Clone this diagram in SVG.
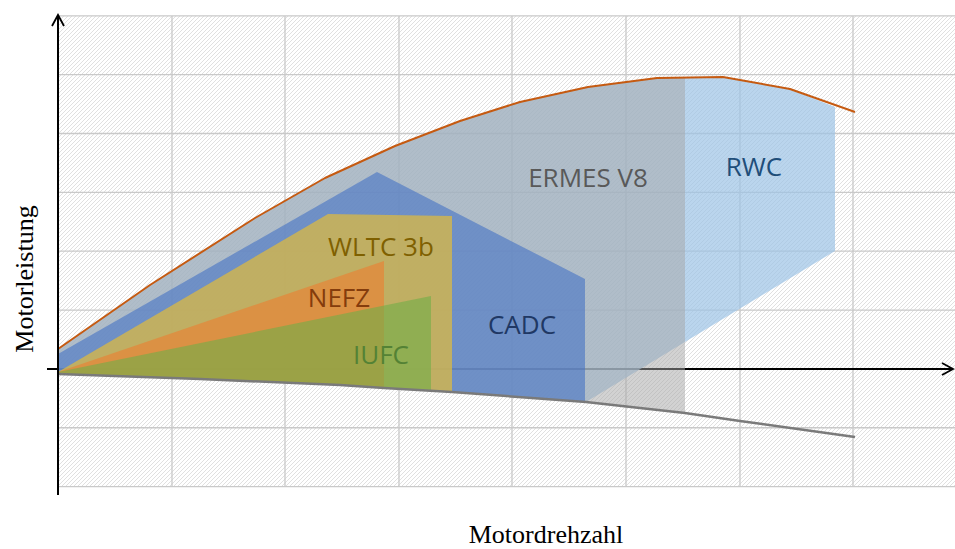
<svg xmlns="http://www.w3.org/2000/svg" width="955" height="549" viewBox="0 0 955 549">
<defs>
<pattern id="hatch" patternUnits="userSpaceOnUse" width="4" height="4">
<path d="M-1,1 L1,-1 M0,4 L4,0 M3,5 L5,3" stroke="#dadada" stroke-width="0.85"/>
</pattern>
<marker id="arr" viewBox="0 0 14 14" refX="12" refY="7" markerWidth="14" markerHeight="14" markerUnits="userSpaceOnUse" orient="auto">
<path d="M1,1 L12,7 L1,13" fill="none" stroke="#000" stroke-width="1.8"/>
</marker>
<style>
.grid{stroke:#c9c9c9;stroke-width:1.3;fill:none}
.axis{stroke:#000;stroke-width:2;fill:none}
.lbl{font-family:"Open Sans","Liberation Sans",sans-serif;font-size:26px;text-anchor:middle}
.ax{font-family:"Liberation Serif","DejaVu Serif",serif;font-size:26px;fill:#000;text-anchor:middle}
</style>
</defs>
<rect width="955" height="549" fill="#fff"/>
<g id="background">
<rect x="58" y="15.8" width="897" height="470.8" fill="url(#hatch)"/>
<path class="grid" d="M58,15.8H955 M58,74.65H955 M58,133.5H955 M58,192.35H955 M58,251.2H955 M58,310.05H955 M58,427.75H955 M58,486.6H955 M172,15.8V486.6 M285,15.8V486.6 M399,15.8V486.6 M512,15.8V486.6 M626,15.8V486.6 M740,15.8V486.6 M853,15.8V486.6"/>
<line class="axis" x1="47" y1="369" x2="953" y2="369" marker-end="url(#arr)"/>
</g>
<g id="rwc">
<polygon fill="#9dc3e6" fill-opacity="0.7" points="58,349 150,285 255,218 325,178 395,146 460,121 520,102 588,87 657,78 723,77 790,89 835,107 835,251 586,402 452,392 384,388 340,385 200,379 58,374"/>
<text class="lbl" x="754" y="176" fill="#1f4e79">RWC</text>
</g>
<g id="ermes-v8">
<polygon fill="#a6a6a6" fill-opacity="0.5" points="58,349 150,285 255,218 325,178 395,146 460,121 520,102 588,87 657,78 685,77.7 685,413 586,402 452,392 384,388 340,385 200,379 58,374"/>
</g>
<g id="cadc">
<polygon fill="#4472c4" fill-opacity="0.6" points="58,354 377,172 585,279 585,402 452,392 384,388 340,385 200,379 58,374"/>
<text class="lbl" x="522" y="334" fill="#203864">CADC</text>
</g>
<g id="wltc-3b">
<polygon fill="#d4b64a" fill-opacity="0.8" points="58,372 328,214 452,216 452,392 384,388 340,385 200,379 58,374"/>
</g>
<g id="nefz">
<polygon fill="#ed7d31" fill-opacity="0.6" points="58,372 384,261 384,388 340,385 200,379 58,374"/>
</g>
<g id="iufc">
<polygon fill="#70ad47" fill-opacity="0.6" points="58,372 431,296 431,390 384,388 340,385 200,379 58,374"/>
</g>
<g id="connectors">
<polyline fill="none" stroke="#c55a11" stroke-width="2" stroke-linejoin="round" points="58,349 150,285 255,218 325,178 395,146 460,121 520,102 588,87 657,78 723,77 790,89 855,112"/>
<polyline fill="none" stroke="#7a7a7a" stroke-width="2.5" stroke-linejoin="round" points="58,374 200,379 340,385 384,388 452,392 586,402 685,413 740,421 855,437"/>
<line class="axis" x1="58" y1="495" x2="58" y2="15" marker-end="url(#arr)"/>
</g>
<g id="labels">
<text class="lbl" x="588" y="187" fill="#595959">ERMES V8</text>
<text class="lbl" x="381" y="256" fill="#7f6000">WLTC 3b</text>
<text class="lbl" x="339" y="307" fill="#843c0c">NEFZ</text>
<text class="lbl" x="381" y="364" fill="#548235">IUFC</text>
<text class="ax" x="546" y="543">Motordrehzahl</text>
<text class="ax" transform="translate(33,279) rotate(-90)">Motorleistung</text>
</g>
</svg>
